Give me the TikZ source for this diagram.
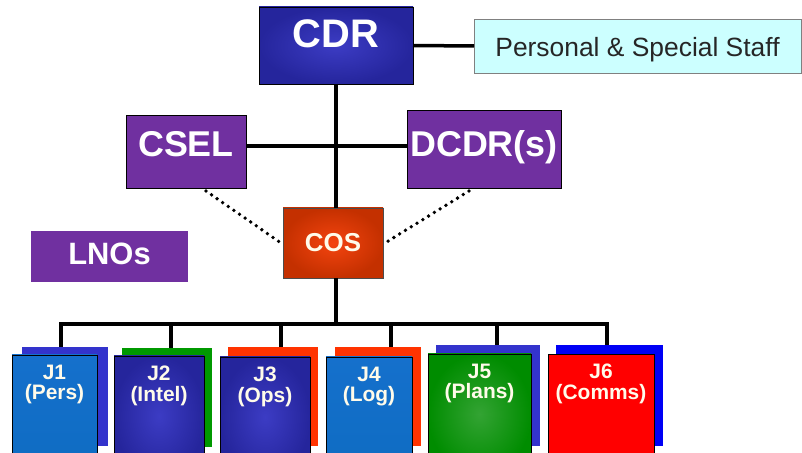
\documentclass[tikz,border=0pt]{standalone}
\usepackage{fontspec}
\setmainfont{Liberation Sans}
\begin{document}
\begin{tikzpicture}[x=1bp,y=-1bp,
  conn/.style={line width=3.5bp, draw=black},
  dotline/.style={line width=3.8bp, dash pattern=on 0bp off 6.8bp, line cap=round},
  box/.style={draw=black, line width=0.8bp, inner sep=0pt, outer sep=0pt,
    text=white, anchor=north west},
  purplebox/.style={box, fill=purpleA},
  bigfont/.style={font=\fontsize{36}{36}\selectfont\bfseries},
  backbox/.style={inner sep=0pt, outer sep=0pt, anchor=north west,
    minimum height=99bp},
  front/.style={box, minimum height=120bp},
  jtext/.style={inner sep=0pt, anchor=north, align=center, text=textW,
    font=\fontsize{21}{20.5}\selectfont\bfseries},
  lightblue/.style={top color=blueT, middle color=blueM, bottom color=blueB},
  darkblue/.style={shading=radial, inner color=indigoI, outer color=indigoO},
]
\definecolor{purpleA}{HTML}{7030A0}
\definecolor{indigoI}{HTML}{3C3CC4}
\definecolor{indigoO}{HTML}{25259C}
\definecolor{blueT}{HTML}{1570CC}
\definecolor{blueM}{HTML}{10AEF8}
\definecolor{blueB}{HTML}{0E6CC2}
\definecolor{textW}{HTML}{FFFBEA}
\definecolor{cyanL}{HTML}{CCFFFF}
\definecolor{backBlue}{HTML}{3333CC}
\definecolor{backGreen}{HTML}{009900}
\definecolor{backRed}{HTML}{FF3300}
\definecolor{pureBlue}{HTML}{0000F5}
\definecolor{cosIn}{HTML}{F4440F}
\definecolor{cosOut}{HTML}{C43000}

\clip (0,0) rectangle (802,453);
\fill[white] (0,0) rectangle (802,453);

% command staff
\node[box, shading=radial, inner color=indigoI, outer color=indigoO,
  minimum width=154bp, text height=41bp, text depth=36bp,
  font=\fontsize{40}{40}\selectfont\bfseries] (cdr) at (259,7) {CDR};
\node[box, fill=cyanL, draw=gray, text=black!85, minimum width=327bp,
  text height=38bp, text depth=16bp,
  font=\fontsize{26.5}{26.5}\selectfont] (staff) at (474,19) {Personal \& Special Staff};
\node[purplebox, bigfont, minimum width=120bp, text height=42bp, text depth=31bp]
  (csel) at (126,115) {CSEL};
\node[purplebox, bigfont, minimum width=154bp, text height=47bp, text depth=31bp]
  (dcdr) at (407,110) {DCDR(s)};
\node[box, draw=black!70, shading=radial, inner color=cosIn, outer color=cosOut,
  minimum width=100bp, text height=44bp, text depth=26bp, text=textW,
  font=\fontsize{26}{26}\selectfont\bfseries] (cos) at (283,208) {COS};
\node[box, draw=none, fill=purpleA, minimum width=157bp, text height=34bp, text depth=17bp,
  font=\fontsize{31}{31}\selectfont\bfseries] (lnos) at (31,231) {LNOs};

% directorates: offset back panels, then front panels
\node[backbox, fill=backBlue,  minimum width=86bp]  (j1b) at (22,347) {};
\node[backbox, fill=backGreen, minimum width=90bp]  (j2b) at (122,348) {};
\node[backbox, fill=backRed,   minimum width=90bp]  (j3b) at (228,347) {};
\node[backbox, fill=backRed,   minimum width=86bp]  (j4b) at (335,347) {};
\node[backbox, fill=backBlue,  minimum width=104bp, minimum height=101bp] (j5b) at (436,345) {};
\node[backbox, fill=pureBlue,  minimum width=107bp, minimum height=101bp] (j6b) at (556,345) {};

\node[front, lightblue, minimum width=85bp]  (j1) at (12,355) {};
\node[front, darkblue,  minimum width=90bp]  (j2) at (114,356) {};
\node[front, darkblue,  minimum width=90bp]  (j3) at (220,357) {};
\node[front, lightblue, minimum width=86bp]  (j4) at (326,357) {};
\node[front, shading=radial, inner color=green!55!black!80!white, outer color=green!55!black,
  minimum width=103bp] (j5) at (428,354) {};
\node[front, fill=red, minimum width=106bp] (j6) at (548,354) {};

\node[jtext] (j1t) at ([yshift=-10]j1.north) {J1\\(Pers)};
\node[jtext] (j2t) at ([yshift=-10]j2.north) {J2\\(Intel)};
\node[jtext] (j3t) at ([yshift=-10]j3.north) {J3\\(Ops)};
\node[jtext] (j4t) at ([yshift=-10]j4.north) {J4\\(Log)};
\node[jtext] (j5t) at ([yshift=-10]j5.north) {J5\\(Plans)};
\node[jtext] (j6t) at ([yshift=-10]j6.north) {J6\\(Comms)};

% connectors
\coordinate (hy) at (336,146);
\coordinate (d1) at (61,324);
\coordinate (d2) at (171,324);
\coordinate (d3) at (281,324);
\coordinate (d4) at (391,324);
\coordinate (d5) at (497,324);
\coordinate (d6) at (607,324);

\draw[conn] (cdr.east) -- (staff.west);
\draw[conn] (cdr.south) -- (cdr.south |- cos.north);
\draw[conn] (hy -| csel.east) -- (hy -| dcdr.west);
\draw[conn] (cdr.south |- cos.south) -- (cdr.south |- d1);
\draw[conn] (d1 |- j1b.north) -- (d1) -- (d6) -- (d6 |- j6b.north);
\draw[conn] (d2) -- (d2 |- j2b.north);
\draw[conn] (d3) -- (d3 |- j3b.north);
\draw[conn] (d4) -- (d4 |- j4b.north);
\draw[conn] (d5) -- (d5 |- j5b.north);

\draw[dotline] ([xshift=20,yshift=-3]csel.south) -- ([xshift=-2]cos.west);
\draw[dotline] ([xshift=-15,yshift=-3]dcdr.south) -- ([xshift=2]cos.east);
\end{tikzpicture}
\end{document}
